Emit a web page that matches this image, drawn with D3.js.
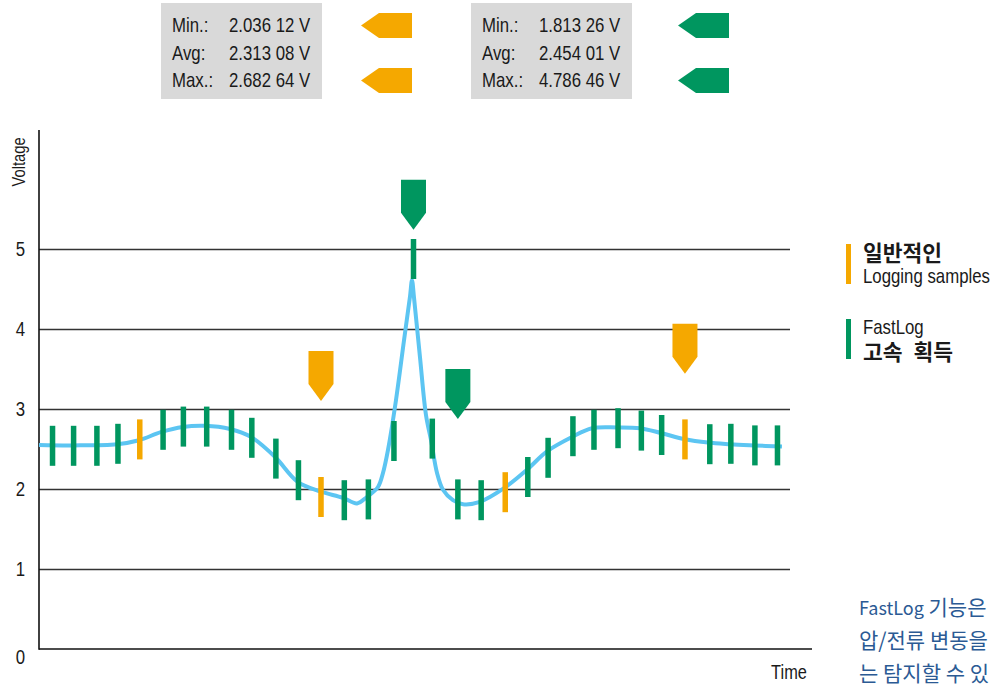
<!DOCTYPE html>
<html>
<head>
<meta charset="utf-8">
<script src="https://cdn.jsdelivr.net/npm/d3@7"></script>
<style>
  html, body { margin: 0; padding: 0; background: #fff; overflow: hidden; }
  svg { display: block; }
</style>
</head>
<body>
<svg id="chart" width="992" height="684"></svg>
<script>
// ---------------- data ----------------
const yTicks = [0, 1, 2, 3, 4, 5];
const yLabel = "Voltage";
const xLabel = "Time";

// sample (tick) times and values
const sampleTimes = [1.8, 4.6, 7.7, 10.5, 13.4, 16.5, 19.2, 22.3, 25.6, 28.3, 31.5, 34.5, 37.5, 40.6, 43.8, 47.2,
  49.8, 52.3, 55.7, 58.8, 62.0, 65.0, 67.7, 71.0, 73.8, 77.0, 80.1, 82.8, 85.9, 89.2, 92.0, 95.2, 98.2];
const sampleValues = [2.54, 2.54, 2.54, 2.565, 2.62, 2.74, 2.78, 2.78, 2.74, 2.64, 2.38, 2.11, 1.90, 1.86, 1.87, 2.60,
  4.875, 2.63, 1.87, 1.86, 1.96, 2.15, 2.39, 2.66, 2.74, 2.76, 2.73, 2.675, 2.62, 2.56, 2.565, 2.545, 2.545];
const sampleType = ["F","F","F","F","L","F","F","F","F","F","F","F","L","F","F","F",
  "F","F","F","F","L","F","F","F","F","F","F","F","L","F","F","F","F"];

// continuous signal
const signalTimes = [0, 4.5, 10.4, 13.3, 16.2, 19.1, 22.1, 25.4, 28.2, 31.4, 34.4, 37.4, 40.4, 42.3, 43.6,
  45.08, 45.74, 46.41, 47.47, 48.54, 49.34, 49.6, 49.87, 50.66, 51.46, 52.13, 52.93, 53.72, 55.05, 56.38,
  58.64, 61.84, 64.89, 67.55, 70.88, 73.54, 76.86, 79.92, 82.71, 85.77, 88.96, 91.89, 95.08, 98.8];
const signalValues = [2.55, 2.545, 2.56, 2.61, 2.71, 2.775, 2.79, 2.75, 2.65, 2.40, 2.09, 1.97, 1.89, 1.82, 1.9,
  2.025, 2.2, 2.49, 3.11, 3.86, 4.41, 4.61, 4.39, 3.65, 2.925, 2.61, 2.2, 1.99, 1.86, 1.81,
  1.84, 2.01, 2.24, 2.47, 2.65, 2.76, 2.77, 2.76, 2.70, 2.625, 2.58, 2.56, 2.545, 2.53];

// min / max markers
const markerTimes = [37.5, 49.8, 55.7, 85.9];
const markerValues = [3.10, 5.24, 2.875, 3.44];
const markerType = ["L", "F", "F", "L"];

// statistics boxes
const statLabels = ["Min.:", "Avg:", "Max.:"];
const statLogging = ["2.036 12 V", "2.313 08 V", "2.682 64 V"];
const statFastLog = ["1.813 26 V", "2.454 01 V", "4.786 46 V"];

// legend
const legendLogging = ["일반적인", "Logging samples"];
const legendFastLog = ["FastLog", "고속 획득"];

// side text (cut by the page edge, as in the reference)
const noteLines = [["FastLog", " 기능은"], ["", "압/전류 변동을"], ["", "는 탐지할 수 있"]];

// ---------------- drawing ----------------
const COL = { L: "#f5a800", F: "#00965f" };
const BLUE = "#5cc5f2";
const INK = "#1a1a1a";
const svg = d3.select("#chart");

// condensed text: Liberation Sans squeezed horizontally (Arial Narrow-like)
function narrow(parent, px, py, str, size, anchor, rot) {
  const g = parent.append("g")
    .attr("transform", `translate(${px},${py})${rot ? ` rotate(${rot})` : ""} scale(0.82,1)`);
  return g.append("text").attr("font-family", "'Liberation Sans', Arial, sans-serif")
    .attr("font-size", size).attr("fill", INK).attr("text-anchor", anchor || "start").text(str);
}

const x = d3.scaleLinear().domain([0, 100]).range([39, 791]);
const y = d3.scaleLinear().domain([0, 5]).range([649, 249]);

// grid lines
const grid = svg.append("g").attr("transform", `translate(${x(0)},0)`)
  .call(d3.axisLeft(y).tickValues(yTicks.filter(d => d > 0)).tickSize(-(x(100) - x(0) - 1)).tickFormat(""));
grid.select(".domain").remove();
grid.selectAll(".tick line").attr("stroke", "#333").attr("stroke-width", 1.6);

// y labels
const yl = svg.append("g");
yTicks.forEach(v => narrow(yl, 25, y(v) + 7 + (v === 0 ? 8 : 0), d3.format("d")(v), 20.5, "end"));

// axes lines
svg.append("line").attr("x1", x(0)).attr("x2", x(0)).attr("y1", 130).attr("y2", y(0) + 0.8)
  .attr("stroke", "#111").attr("stroke-width", 1.6);
svg.append("line").attr("x1", x(0)).attr("x2", 812).attr("y1", y(0)).attr("y2", y(0))
  .attr("stroke", "#111").attr("stroke-width", 1.6);

narrow(svg, 25, 162, yLabel, 18, "middle", -90);
narrow(svg, 789, 679, xLabel, 20, "middle");

// signal curve
const signal = signalTimes.map((t, i) => [t, signalValues[i]]);
svg.append("path").datum(signal)
  .attr("d", d3.line().x(d => x(d[0])).y(d => y(d[1])).curve(d3.curveCatmullRom.alpha(0.5)))
  .attr("fill", "none").attr("stroke", BLUE).attr("stroke-width", 4);

// sample ticks
const samples = sampleTimes.map((t, i) => ({ t, v: sampleValues[i], k: sampleType[i] }));
svg.append("g").selectAll("rect").data(samples).join("rect")
  .attr("x", d => x(d.t) - 2.75).attr("width", 5.5)
  .attr("y", d => y(d.v + 0.25)).attr("height", d => y(d.v - 0.25) - y(d.v + 0.25))
  .attr("fill", d => COL[d.k]);

// down-pointing markers
const mW = 25, mRect = 33, mTri = 17;
svg.append("g").selectAll("path").data(markerTimes.map((t, i) => ({ t, v: markerValues[i], k: markerType[i] })))
  .join("path")
  .attr("d", d => {
    const cx = x(d.t), tip = y(d.v);
    const top = tip - mTri - mRect;
    return `M${cx - mW / 2},${top}H${cx + mW / 2}V${tip - mTri}L${cx},${tip}L${cx - mW / 2},${tip - mTri}Z`;
  })
  .attr("fill", d => COL[d.k]);

// stat boxes
function statBox(x0, vals, col, arrowX) {
  const g = svg.append("g");
  g.append("rect").attr("x", x0).attr("y", 3).attr("width", 161).attr("height", 96).attr("fill", "#d9d9d9");
  const rows = [32, 60, 87];
  statLabels.forEach((lab, i) => {
    narrow(g, x0 + 11, rows[i], lab, 20.5);
    narrow(g, x0 + 68, rows[i], vals[i], 20.5);
  });
  [[13, 38], [68, 93]].forEach(([t, b]) => {
    g.append("path").attr("fill", col)
      .attr("d", `M${arrowX},${(t + b) / 2}L${arrowX + 18},${t}H${arrowX + 51}V${b}H${arrowX + 18}Z`);
  });
}
statBox(161, statLogging, COL.L, 361);
statBox(471, statFastLog, COL.F, 678);

// legend
function legendItem(y0, col, lines, bold) {
  svg.append("rect").attr("x", 846).attr("y", y0).attr("width", 5).attr("height", 40).attr("fill", col);
  lines.forEach((s, i) => {
    const ty = y0 + 16 + i * 24;
    if (bold[i]) {
      svg.append("text").attr("x", 863).attr("y", ty + 1).text(s).attr("fill", INK)
        .attr("font-family", "'Noto Sans CJK KR', sans-serif").attr("font-weight", 700)
        .attr("font-size", 21.5).attr("word-spacing", 6);
    } else {
      narrow(svg, 863, ty - 1, s, 20.5);
    }
  });
}
legendItem(244, COL.L, legendLogging, [true, false]);
legendItem(319, COL.F, legendFastLog, [false, true]);

// side note
noteLines.forEach((parts, i) => {
  const t = svg.append("text").attr("x", 859).attr("y", 615 + i * 33)
    .attr("font-family", "'Noto Sans CJK KR', 'Noto Sans', sans-serif").attr("fill", "#2b5a94");
  if (parts[0]) t.append("tspan").attr("font-size", 18).text(parts[0]);
  t.append("tspan").attr("font-size", 21).text(parts[1]);
});
</script>
</body>
</html>
